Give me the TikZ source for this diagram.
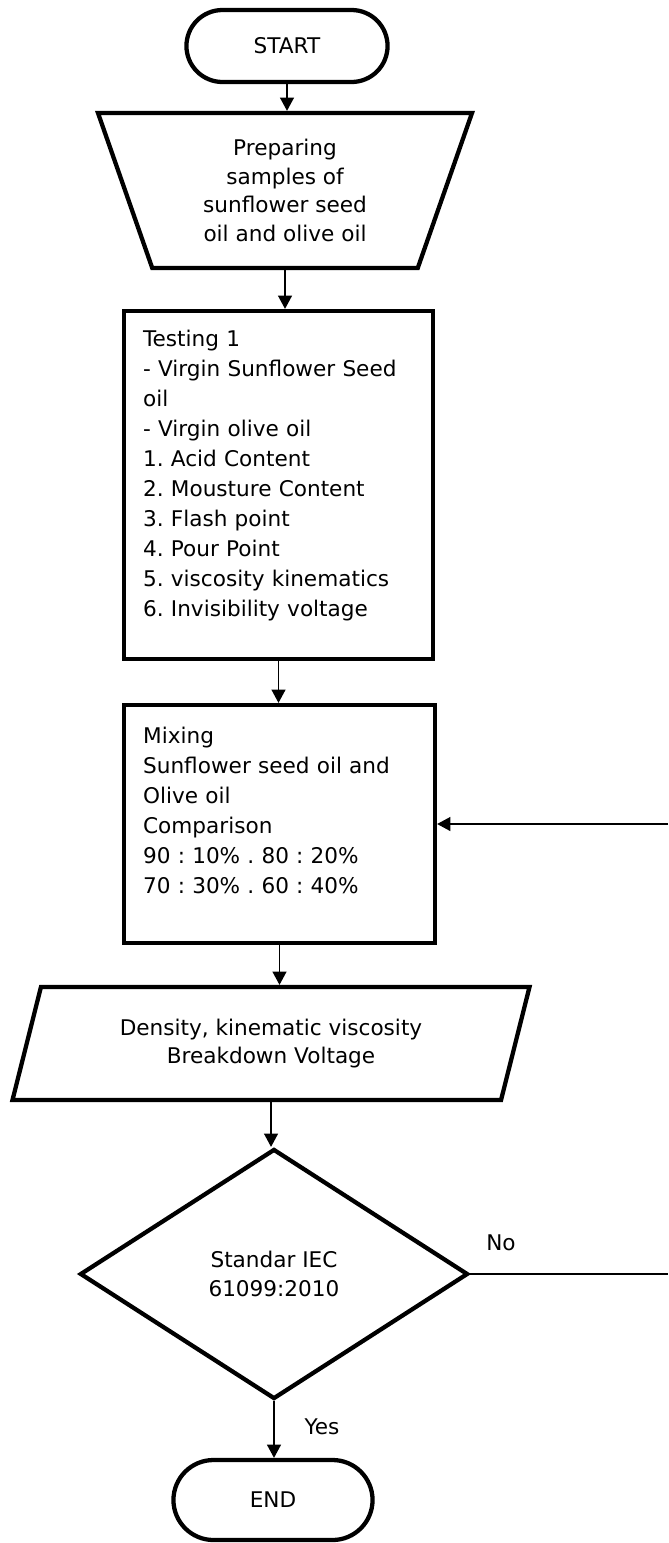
\documentclass[tikz,border=0pt]{standalone}
\usepackage{fontspec}
\setmainfont{DejaVu Sans}
\usetikzlibrary{shapes.geometric, shapes.misc, arrows.meta}
\frenchspacing

\begin{document}
\begin{tikzpicture}[x=0.75pt, y=-0.75pt,
  every node/.style={font=\fontsize{16.2}{22.5}\selectfont},
  shapetext/.style={font=\fontsize{16.2}{21.4}\selectfont, align=center},
  terminal/.style={draw, line width=3.2pt, rounded rectangle, minimum width=157.5pt, minimum height=54pt},
  manual/.style={draw, line width=3.2pt, trapezium, shape border rotate=180, trapezium stretches body,
    trapezium left angle=64, trapezium right angle=64, minimum width=280.5pt, minimum height=116.25pt, shapetext},
  datain/.style={draw, line width=3.2pt, trapezium, trapezium stretches body,
    trapezium left angle=64, trapezium right angle=116, minimum width=387.75pt, minimum height=84.75pt, shapetext},
  procbox/.style={draw, line width=3.2pt, rectangle},
  boxtext/.style={inner sep=0pt, text width=201pt, align=left, anchor=north west},
  decision/.style={draw, line width=3.2pt, diamond, minimum width=291pt, minimum height=187.5pt, shapetext},
  flow/.style={line width=1.1pt, -{Triangle[length=10pt, width=10.5pt]}},
  plain/.style={line width=1.1pt}
]
  \useasboundingbox (0,0) rectangle (668,1543);

  % shapes
  \node[terminal] (start) at (287,46) {START};
  \node[manual] (prep) at (285,190.5) {Preparing\\samples of\\sunflower seed\\oil and olive oil};
  \node[procbox, minimum width=231.75pt, minimum height=261pt] (test) at (278.5,485) {};
  \node[boxtext] (testtext) at ([shift={(21,21)}]test.north west) {Testing 1\\
    \makebox[201pt][s]{- Virgin Sunflower Seed}\\
    oil\\
    - Virgin olive oil\\
    1. Acid Content\\
    2. Mousture Content\\
    3. Flash point\\
    4. Pour Point\\
    5. viscosity kinematics\\
    6. Invisibility voltage};
  \node[procbox, minimum width=233.25pt, minimum height=178.5pt] (mix) at (279.5,824) {};
  \node[boxtext] (mixtext) at ([shift={(21,24)}]mix.north west) {Mixing\\
    \makebox[201pt][s]{Sunflower seed oil and}\\
    Olive oil\\
    Comparison\\
    90 : 10\% . 80 : 20\%\\
    70 : 30\% . 60 : 40\%};
  \node[datain] (dens) at (271,1043.5) {Density, kinematic viscosity\\Breakdown Voltage};
  \node[decision] (dec) at (274,1274) {Standar IEC\\61099:2010};
  \node[terminal, minimum width=156pt, minimum height=60pt] (end) at (273,1500) {END};

  % connectors
  \draw[flow] (start.south) -- (start.south |- prep.north);
  \draw[flow] (prep.south) -- (prep.south |- test.north);
  \draw[flow] (test.south) -- (test.south |- mix.north);
  \draw[flow] (mix.south) -- (mix.south |- dens.north);
  \draw[flow] (dens.south) -- (dens.south |- dec.north);
  \draw[flow] (dec.south) -- (dec.south |- end.north);

  \coordinate (noend) at (668,1274);
  \coordinate (back) at (668,824);
  \draw[plain] (dec.east) -- (noend);
  \draw[flow] (back) -- (mix.east);

  \node (no) at (501,1243) {No};
  \node (yes) at (322,1427) {Yes};
\end{tikzpicture}
\end{document}
